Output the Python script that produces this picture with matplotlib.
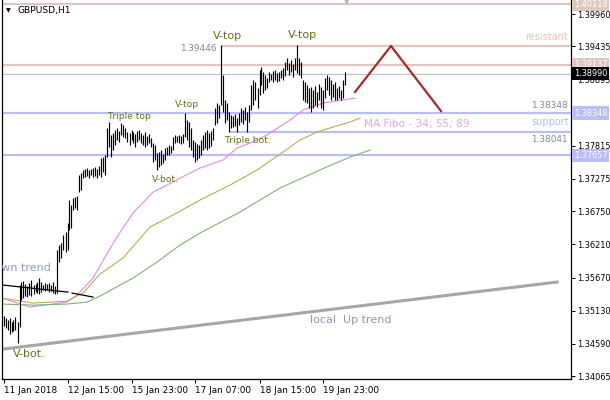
import numpy as np
import matplotlib.pyplot as plt
from matplotlib.transforms import blended_transform_factory

# GBPUSD H1 bars (bar index 0 = 11 Jan 2018 07:00)
highs = [1.3504, 1.3501, 1.3498, 1.3501, 1.3495, 1.3498, 1.3503, 1.3495, 1.3555, 1.3560,
         1.3561, 1.3556, 1.3553, 1.3558, 1.3563, 1.3555, 1.3556, 1.3560, 1.3566, 1.3560,
         1.3555, 1.3558, 1.3556, 1.3558, 1.3555, 1.3560, 1.3553, 1.3612, 1.3620, 1.3623,
         1.3636, 1.3641, 1.3656, 1.3693, 1.3685, 1.3696, 1.3698, 1.3700, 1.3734, 1.3737,
         1.3742, 1.3744, 1.3745, 1.3742, 1.3744, 1.3745, 1.3747, 1.3744, 1.3749, 1.3762,
         1.3763, 1.3766, 1.3810, 1.3820, 1.3799, 1.3802, 1.3807, 1.3810, 1.3806, 1.3819,
         1.3815, 1.3810, 1.3804, 1.3802, 1.3807, 1.3804, 1.3801, 1.3806, 1.3807, 1.3802,
         1.3799, 1.3804, 1.3797, 1.3801, 1.3794, 1.3786, 1.3783, 1.3770, 1.3771, 1.3775,
         1.3768, 1.3778, 1.3779, 1.3783, 1.3781, 1.3796, 1.3799, 1.3797, 1.3799, 1.3797,
         1.3801, 1.3835, 1.3823, 1.3820, 1.3810, 1.3791, 1.3788, 1.3784, 1.3783, 1.3791,
         1.3799, 1.3804, 1.3807, 1.3802, 1.3806, 1.3810, 1.3843, 1.3851, 1.3848, 1.3945,
         1.3897, 1.3856, 1.3851, 1.3836, 1.3832, 1.3830, 1.3833, 1.3827, 1.3835, 1.3843,
         1.3840, 1.3845, 1.3836, 1.3848, 1.3880, 1.3889, 1.3885, 1.3876, 1.3905, 1.3910,
         1.3902, 1.3897, 1.3892, 1.3902, 1.3898, 1.3903, 1.3905, 1.3900, 1.3902, 1.3905,
         1.3908, 1.3918, 1.3924, 1.3916, 1.3921, 1.3915, 1.3924, 1.3945, 1.3924, 1.3918,
         1.3889, 1.3885, 1.3880, 1.3876, 1.3877, 1.3872, 1.3879, 1.3869, 1.3882, 1.3877,
         1.3872, 1.3892, 1.3897, 1.3893, 1.3889, 1.3882, 1.3885, 1.3876, 1.3879, 1.3872,
         1.3889, 1.3902]
lows = [1.3488, 1.3485, 1.3481, 1.3475, 1.3478, 1.3480, 1.3481, 1.3460, 1.3486, 1.3530,
        1.3534, 1.3537, 1.3535, 1.3538, 1.3537, 1.3540, 1.3543, 1.3542, 1.3540, 1.3543,
        1.3547, 1.3545, 1.3547, 1.3543, 1.3545, 1.3542, 1.3540, 1.3542, 1.3592, 1.3599,
        1.3612, 1.3608, 1.3612, 1.3644, 1.3648, 1.3677, 1.3680, 1.3677, 1.3706, 1.3709,
        1.3729, 1.3731, 1.3732, 1.3729, 1.3734, 1.3731, 1.3732, 1.3729, 1.3734, 1.3731,
        1.3739, 1.3734, 1.3763, 1.3779, 1.3763, 1.3775, 1.3783, 1.3791, 1.3788, 1.3799,
        1.3796, 1.3794, 1.3788, 1.3783, 1.3791, 1.3786, 1.3779, 1.3788, 1.3791, 1.3786,
        1.3783, 1.3779, 1.3783, 1.3786, 1.3779, 1.3755, 1.3758, 1.3742, 1.3747, 1.3750,
        1.3753, 1.3758, 1.3766, 1.3766, 1.3770, 1.3775, 1.3786, 1.3788, 1.3786, 1.3784,
        1.3786, 1.3796, 1.3791, 1.3779, 1.3775, 1.3763, 1.3755, 1.3758, 1.3762, 1.3766,
        1.3775, 1.3778, 1.3775, 1.3778, 1.3781, 1.3791, 1.3815, 1.3819, 1.3827, 1.3848,
        1.3836, 1.3819, 1.3823, 1.3804, 1.3810, 1.3812, 1.3814, 1.3804, 1.3815, 1.3820,
        1.3817, 1.3823, 1.3804, 1.3820, 1.3840, 1.3848, 1.3856, 1.3843, 1.3864, 1.3880,
        1.3867, 1.3872, 1.3876, 1.3885, 1.3889, 1.3885, 1.3889, 1.3885, 1.3887, 1.3892,
        1.3889, 1.3895, 1.3905, 1.3897, 1.3902, 1.3893, 1.3905, 1.3900, 1.3897, 1.3892,
        1.3856, 1.3853, 1.3851, 1.3843, 1.3836, 1.3843, 1.3848, 1.3845, 1.3856, 1.3843,
        1.3840, 1.3859, 1.3872, 1.3864, 1.3856, 1.3861, 1.3856, 1.3856, 1.3859, 1.3856,
        1.3859, 1.3880]

# MA Fibo 34 / 55 / 89 as (bar, price)
ma34_x = [-0.75, 13.25, 31.75, 36.75, 44.75, 52.25, 56.75, 64.75, 74.75, 81.75, 88.25,
          98.25, 109.75, 116.75, 123.25, 131.75, 143.25, 149.75, 159.75, 175.75]
ma34_y = [1.35335, 1.35189, 1.35270, 1.35384, 1.35661, 1.36084, 1.36329, 1.36720, 1.37061,
          1.37175, 1.37289, 1.37452, 1.37583, 1.37778, 1.37859, 1.37990, 1.38234, 1.38397,
          1.38511, 1.38592]
ma55_x = [-0.75, 14.75, 31.75, 39.75, 48.25, 59.75, 73.25, 84.75, 98.25, 113.25, 126.75,
          139.75, 148.25, 156.75, 164.75, 173.25, 178.25]
ma55_y = [1.35335, 1.35254, 1.35287, 1.35417, 1.35726, 1.35987, 1.36492, 1.36687, 1.36931,
          1.37175, 1.37420, 1.37713, 1.37908, 1.38039, 1.38120, 1.38201, 1.38266]
ma89_x = [-0.75, 14.75, 31.75, 41.75, 48.25, 58.25, 64.75, 76.75, 88.25, 98.25, 118.25,
          138.25, 159.25, 173.25, 183.25]
ma89_y = [1.35238, 1.35221, 1.35238, 1.35270, 1.35368, 1.35547, 1.35661, 1.35922, 1.36198,
          1.36394, 1.36736, 1.37127, 1.37436, 1.37631, 1.37745]

# drawn objects
uptrend_x, uptrend_y = [-0.25, 276.75], [1.34505, 1.35596]
down1_x, down1_y = [-0.25, 32.25], [1.35547, 1.35433]
down2_x, down2_y = [34.25, 44.75], [1.35417, 1.35352]
zig_x, zig_y = [175.75, 193.75, 218.75], [1.38690, 1.39439, 1.38380]

rose_full = [1.40118, 1.39137]
res_level, res_start = 1.39446, 109.25
blue_full = [1.38348, 1.37657]
sup_level, sup_start = 1.38041, 113.25
last_price = 1.38990

ytick_vals = [1.39960, 1.39435, 1.38895, 1.37815, 1.37275, 1.36750, 1.36210,
              1.35670, 1.35130, 1.34590, 1.34065]
xtick_pos = [0, 32, 64, 96, 128, 160]
xtick_lab = ['11 Jan 2018', '12 Jan 15:00', '15 Jan 23:00', '17 Jan 07:00',
             '18 Jan 15:00', '19 Jan 23:00']

ROSE = '#dfc6bf'
BLUE = '#babef5'
LBL = '#5f7418'
FS = 6.4
YFS = 5.9

fig = plt.figure(figsize=(6.1, 4.0), dpi=100)
ax = fig.add_axes([2 / 610, 21 / 400, 569 / 610, 379 / 400])
ax.set_xlim(-0.75, 283.75)
ax.set_ylim(1.34018, 1.40188)

for p in rose_full:
    ax.axhline(p, color=ROSE, lw=1.6, zorder=1)
ax.hlines(res_level, res_start, 283.75, color=ROSE, lw=1.6, zorder=1)
ax.axhline(last_price, color='#c0c0c0', lw=0.8, zorder=1)
for p in blue_full:
    ax.axhline(p, color=BLUE, lw=1.6, zorder=1)
ax.hlines(sup_level, sup_start, 283.75, color=BLUE, lw=1.6, zorder=1)

ax.plot(ma34_x, ma34_y, color='#e08ce0', lw=0.8, zorder=2)
ax.plot(ma55_x, ma55_y, color='#b8ae58', lw=0.8, zorder=2)
ax.plot(ma89_x, ma89_y, color='#7fb374', lw=0.8, zorder=2)

ax.plot(uptrend_x, uptrend_y, color='#a6a6a6', lw=2.2, zorder=2)
ax.plot(down1_x, down1_y, color='black', lw=0.9, zorder=2)
ax.plot(down2_x, down2_y, color='black', lw=0.9, zorder=2)
ax.plot(zig_x, zig_y, color='#a52a2a', lw=1.6, zorder=3)

idx = np.arange(len(highs))
ax.vlines(idx, lows, highs, color='black', lw=0.85, zorder=3)


def pix(xp, yp):
    # screen position -> (bar, price)
    return ((xp - 3.5) / 2, 1.40188 - 0.00016284 * yp)


def lab(xp, yp, s, color, size, ha='center'):
    x, y = pix(xp, yp)
    ax.text(x, y, s, color=color, fontsize=size, ha=ha, va='center', zorder=4, clip_on=True)


lab(227, 36, 'V-top', LBL, 8)
lab(302, 35, 'V-top', LBL, 8)
lab(187, 104, 'V-top', LBL, 6.6)
lab(129, 116, 'Triple top', LBL, 6.6)
lab(165, 179, 'V-bot.', LBL, 6.6)
lab(248, 140, 'Triple bot.', LBL, 6.6)
lab(29, 354, 'V-bot.', LBL, 8)
lab(351, 320, 'local  Up trend', '#8e9ab0', 8)
lab(-14, 268, 'Down trend', '#8e9db5', 8, ha='left')
lab(417, 124, 'MA Fibo - 34; 55; 89', '#e6a6e0', 7.6)
lab(568, 37, 'resistant', '#e0c4bc', 7, ha='right')
lab(569, 122, 'support', '#b6baf0', 7, ha='right')
lab(568, 105, '1.38348', '#7d8a99', FS, ha='right')
lab(568, 139, '1.38041', '#7d8a99', FS, ha='right')
lab(217, 48, '1.39446', '#7d8a99', FS, ha='right')

fig.text(17 / 610, 1 - 11 / 400, 'GBPUSD,H1', fontsize=6.6, va='center', ha='left')
fig.text(8 / 610, 1 - 11 / 400, '\u25bc', fontsize=4.5, va='center', ha='center')
fig.text(347 / 610, 1 - 2 / 400, '\u25bc', fontsize=5, va='center', ha='center',
         color='#b0b0b0')

# axes styling
ax.spines['top'].set_visible(False)
for side in ['left', 'right', 'bottom']:
    ax.spines[side].set_linewidth(0.9)
ax.yaxis.tick_right()
ax.set_yticks(ytick_vals)
ax.set_yticklabels(['%.5f' % v for v in ytick_vals], fontsize=YFS)
ax.tick_params(axis='y', length=3, width=0.7, pad=1.5)
ax.set_xticks(xtick_pos)
ax.set_xticklabels(xtick_lab, fontsize=FS, ha='left')
ax.tick_params(axis='x', length=3, width=0.7, pad=2)

tr = blended_transform_factory(ax.transAxes, ax.transData)
boxes = [(1.40118, ROSE), (1.39137, ROSE), (1.38990, 'black'), (1.38348, BLUE), (1.37657, BLUE)]
for p, c in boxes:
    ax.text(1.0045, p, '%.5f' % p, transform=tr, fontsize=YFS, color='white', ha='left',
            va='center', clip_on=False, zorder=6,
            bbox=dict(boxstyle='square,pad=0.25', fc=c, ec='none'))

fig.savefig('out.png', dpi=100)
